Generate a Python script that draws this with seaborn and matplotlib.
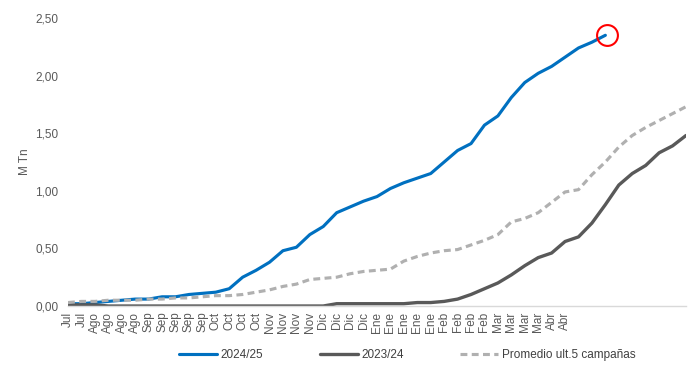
import numpy as np
import pandas as pd
import matplotlib
matplotlib.use("Agg")
import matplotlib.pyplot as plt
import seaborn as sns

# etiquetas del eje x (semanas), las ultimas sin etiqueta
semanas = (["Jul"] * 2 + ["Ago"] * 4 + ["Sep"] * 5 + ["Oct"] * 4 + ["Nov"] * 4 +
           ["Dic"] * 4 + ["Ene"] * 5 + ["Feb"] * 4 + ["Mar"] * 4 + ["Abr"] * 2 + [""] * 9)

c2425 = [0.02, 0.02, 0.03, 0.04, 0.05, 0.06, 0.06, 0.08, 0.08, 0.10,
         0.11, 0.12, 0.15, 0.25, 0.31, 0.38, 0.48, 0.51, 0.62, 0.69,
         0.81, 0.86, 0.91, 0.95, 1.02, 1.07, 1.11, 1.15, 1.25, 1.35,
         1.41, 1.57, 1.65, 1.81, 1.94, 2.02, 2.08, 2.16, 2.24, 2.29,
         2.35]

c2324 = [0.01, 0.01, 0.01, 0.00, 0.00, 0.00, 0.00, 0.00, 0.00, 0.00,
         0.00, 0.00, 0.00, 0.00, 0.00, 0.00, 0.00, 0.00, 0.00, 0.00,
         0.02, 0.02, 0.02, 0.02, 0.02, 0.02, 0.03, 0.03, 0.04, 0.06,
         0.10, 0.15, 0.20, 0.27, 0.35, 0.42, 0.46, 0.56, 0.60, 0.72,
         0.88, 1.05, 1.15, 1.22, 1.33, 1.39, 1.48]

promedio = [0.03, 0.04, 0.04, 0.05, 0.05, 0.05, 0.06, 0.06, 0.07, 0.07,
            0.08, 0.09, 0.09, 0.10, 0.12, 0.14, 0.17, 0.19, 0.23, 0.24,
            0.25, 0.28, 0.30, 0.31, 0.32, 0.39, 0.43, 0.46, 0.48, 0.49,
            0.53, 0.57, 0.62, 0.73, 0.76, 0.81, 0.90, 0.99, 1.01, 1.14,
            1.25, 1.38, 1.48, 1.55, 1.61, 1.67, 1.73]

sns.set_style("white")
plt.rcParams["font.family"] = ["Liberation Sans", "DejaVu Sans"]

fig = plt.figure(figsize=(6.96, 3.72), dpi=100)
ax = fig.add_axes([0.0977, 0.1774, 0.8879, 0.7742])

sns.lineplot(x=np.arange(len(c2425)), y=c2425, ax=ax, color="#0070C0",
             linewidth=2.25, label="2024/25")
sns.lineplot(x=np.arange(len(c2324)), y=c2324, ax=ax, color="#595959",
             linewidth=2.4, label="2023/24")
sns.lineplot(x=np.arange(len(promedio)), y=promedio, ax=ax, color="#B0B0B0",
             linewidth=2.25, label="Promedio ult.5 campañas")
ax.lines[2].set_dashes((2.2, 1.4))

# circulo rojo en el ultimo dato
ax.plot(len(c2425) - 0.9, c2425[-1] + 0.005, marker="o", ms=15, mfc="none",
        mec="red", mew=1.5, clip_on=False)

ax.set_xlim(0, len(semanas) - 1)
ax.set_ylim(0, 2.5)
ax.set_xticks(np.arange(len(semanas)))
ax.set_xticklabels(semanas, rotation=90, fontsize=8.5, color="#595959")
ax.set_yticks(np.arange(0, 2.51, 0.5))
ax.set_yticklabels([f"{v:.2f}".replace(".", ",") for v in np.arange(0, 2.51, 0.5)],
                   fontsize=8.5, color="#595959")
ax.tick_params(axis="y", length=0, pad=7)
ax.tick_params(axis="x", length=0, pad=4)
ax.set_ylabel("M Tn", fontsize=8.5, color="#595959", labelpad=3)

for s in ["top", "right", "left"]:
    ax.spines[s].set_visible(False)
ax.spines["bottom"].set_color("#D9D9D9")
ax.spines["bottom"].set_linewidth(1)

ax.legend_.remove()
handles, labels = ax.get_legend_handles_labels()
fig.legend(handles[:3], labels[:3], loc="center", bbox_to_anchor=(0.585, 0.046),
           ncol=3, frameon=False, fontsize=8.5, handlelength=3.2,
           handletextpad=0.3, columnspacing=4.8, labelcolor="#404040")

fig.savefig("out.png", dpi=100)
